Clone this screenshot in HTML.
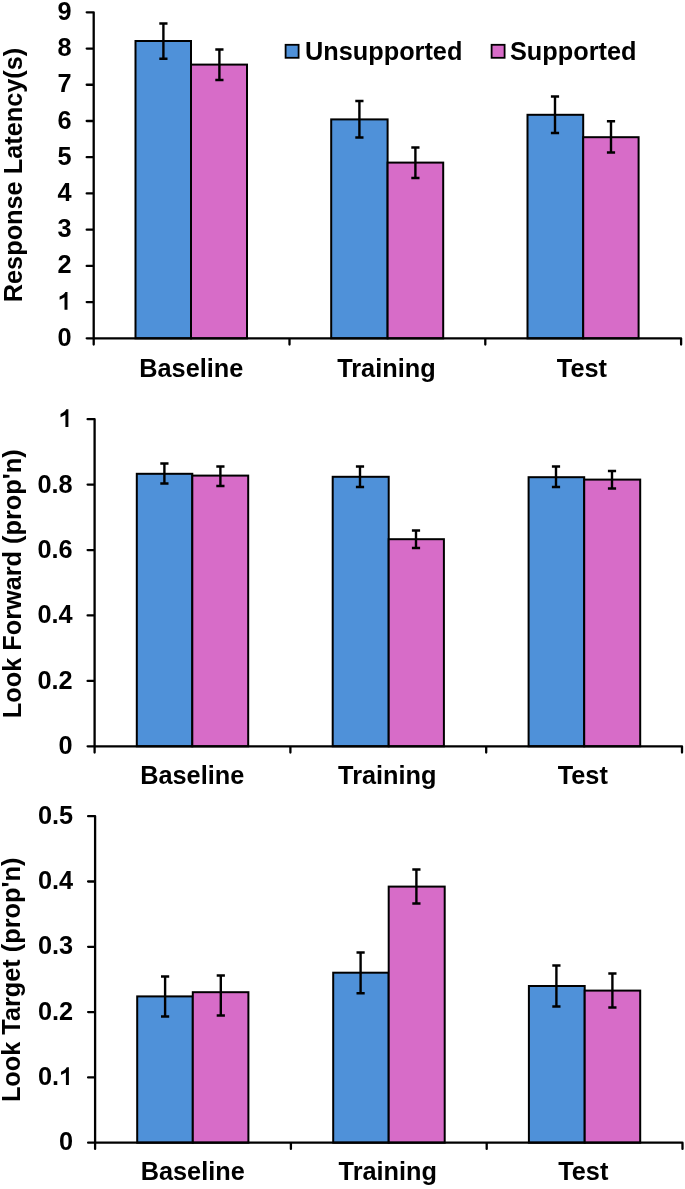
<!DOCTYPE html>
<html><head><meta charset="utf-8"><style>
html,body{margin:0;padding:0;background:#fff;width:685px;height:1189px;overflow:hidden}
svg{display:block;will-change:transform}
text{font-family:"Liberation Sans",sans-serif;font-weight:bold;font-size:25.3px;fill:#000}
</style></head><body>
<svg width="685" height="1189" viewBox="0 0 685 1189">
<defs><path id="one" d="M0.39 0V-0.703H0.305C0.275 -0.635 0.205 -0.575 0.079 -0.52V-0.392C0.15 -0.418 0.22 -0.452 0.272 -0.49V0Z"/></defs>
<rect x="135.5" y="41" width="55.5" height="297.35" fill="#4f91d9" stroke="#000" stroke-width="2.0"/>
<rect x="191" y="64.6" width="56" height="273.75" fill="#d76cc8" stroke="#000" stroke-width="2.0"/>
<rect x="331.2" y="119.4" width="56.4" height="218.95" fill="#4f91d9" stroke="#000" stroke-width="2.0"/>
<rect x="387.6" y="162.6" width="55.6" height="175.75" fill="#d76cc8" stroke="#000" stroke-width="2.0"/>
<rect x="527.5" y="114.8" width="55.7" height="223.55" fill="#4f91d9" stroke="#000" stroke-width="2.0"/>
<rect x="583.2" y="137.2" width="55.4" height="201.15" fill="#d76cc8" stroke="#000" stroke-width="2.0"/>
<path d="M163.4 23.4V58.8" stroke="#000" stroke-width="2.4" fill="none"/>
<path d="M159.3 23.4H167.5M159.3 58.8H167.5" stroke="#000" stroke-width="2.5" fill="none"/>
<path d="M219.4 49.5V80" stroke="#000" stroke-width="2.4" fill="none"/>
<path d="M215.3 49.5H223.5M215.3 80H223.5" stroke="#000" stroke-width="2.5" fill="none"/>
<path d="M359.4 101V137.4" stroke="#000" stroke-width="2.4" fill="none"/>
<path d="M355.3 101H363.5M355.3 137.4H363.5" stroke="#000" stroke-width="2.5" fill="none"/>
<path d="M415.4 147.6V178" stroke="#000" stroke-width="2.4" fill="none"/>
<path d="M411.3 147.6H419.5M411.3 178H419.5" stroke="#000" stroke-width="2.5" fill="none"/>
<path d="M555 96.6V133" stroke="#000" stroke-width="2.4" fill="none"/>
<path d="M550.9 96.6H559.1M550.9 133H559.1" stroke="#000" stroke-width="2.5" fill="none"/>
<path d="M611 121.2V152.5" stroke="#000" stroke-width="2.4" fill="none"/>
<path d="M606.9 121.2H615.1M606.9 152.5H615.1" stroke="#000" stroke-width="2.5" fill="none"/>
<path d="M93.7 12.3V344.55M93.7 338.35H681.1V344.55M86.7 338.35H93.7M86.7 302.12H93.7M86.7 265.89H93.7M86.7 229.67H93.7M86.7 193.44H93.7M86.7 157.21H93.7M86.7 120.98H93.7M86.7 84.76H93.7M86.7 48.53H93.7M86.7 12.3H93.7M289.5 338.35V344.55M485.3 338.35V344.55" stroke="#000" stroke-width="2.3" fill="none" stroke-linejoin="round" stroke-linecap="round"/>
<text x="71.7" y="345.95" text-anchor="end">0</text>
<use href="#one" transform="translate(57.63 309.72) scale(25.3)"/>
<text x="71.7" y="273.49" text-anchor="end">2</text>
<text x="71.7" y="237.27" text-anchor="end">3</text>
<text x="71.7" y="201.04" text-anchor="end">4</text>
<text x="71.7" y="164.81" text-anchor="end">5</text>
<text x="71.7" y="128.58" text-anchor="end">6</text>
<text x="71.7" y="92.36" text-anchor="end">7</text>
<text x="71.7" y="56.13" text-anchor="end">8</text>
<text x="71.7" y="19.9" text-anchor="end">9</text>
<text x="191.3" y="376.7" text-anchor="middle">Baseline</text>
<text x="386.4" y="376.7" text-anchor="middle">Training</text>
<text x="581.9" y="376.7" text-anchor="middle">Test</text>
<text transform="translate(22.2 175) rotate(-90)" text-anchor="middle">Response Latency(s)</text>
<rect x="285.6" y="44.8" width="13" height="13" fill="#4f91d9" stroke="#000" stroke-width="1.8"/>
<text x="305" y="59.5">Unsupported</text>
<rect x="491.6" y="44.8" width="13" height="13" fill="#d76cc8" stroke="#000" stroke-width="1.8"/>
<text x="510" y="59.5">Supported</text>
<rect x="136.8" y="473.8" width="55.5" height="272.5" fill="#4f91d9" stroke="#000" stroke-width="2.0"/>
<rect x="192.3" y="475.6" width="55.9" height="270.7" fill="#d76cc8" stroke="#000" stroke-width="2.0"/>
<rect x="332.7" y="476.8" width="56" height="269.5" fill="#4f91d9" stroke="#000" stroke-width="2.0"/>
<rect x="388.7" y="539.2" width="55.2" height="207.1" fill="#d76cc8" stroke="#000" stroke-width="2.0"/>
<rect x="528.6" y="477.2" width="55.6" height="269.1" fill="#4f91d9" stroke="#000" stroke-width="2.0"/>
<rect x="584.2" y="479.6" width="56" height="266.7" fill="#d76cc8" stroke="#000" stroke-width="2.0"/>
<path d="M164.4 463.6V483.6" stroke="#000" stroke-width="2.4" fill="none"/>
<path d="M160.3 463.6H168.5M160.3 483.6H168.5" stroke="#000" stroke-width="2.5" fill="none"/>
<path d="M220.4 466.4V486" stroke="#000" stroke-width="2.4" fill="none"/>
<path d="M216.3 466.4H224.5M216.3 486H224.5" stroke="#000" stroke-width="2.5" fill="none"/>
<path d="M360 466.4V487" stroke="#000" stroke-width="2.4" fill="none"/>
<path d="M355.9 466.4H364.1M355.9 487H364.1" stroke="#000" stroke-width="2.5" fill="none"/>
<path d="M416 530.4V548" stroke="#000" stroke-width="2.4" fill="none"/>
<path d="M411.9 530.4H420.1M411.9 548H420.1" stroke="#000" stroke-width="2.5" fill="none"/>
<path d="M556 466.4V487" stroke="#000" stroke-width="2.4" fill="none"/>
<path d="M551.9 466.4H560.1M551.9 487H560.1" stroke="#000" stroke-width="2.5" fill="none"/>
<path d="M612 471V488.4" stroke="#000" stroke-width="2.4" fill="none"/>
<path d="M607.9 471H616.1M607.9 488.4H616.1" stroke="#000" stroke-width="2.5" fill="none"/>
<path d="M94.6 419.2V752.5M94.6 746.3H682V752.5M87.6 746.3H94.6M87.6 680.88H94.6M87.6 615.46H94.6M87.6 550.04H94.6M87.6 484.62H94.6M87.6 419.2H94.6M290.4 746.3V752.5M486.2 746.3V752.5" stroke="#000" stroke-width="2.3" fill="none" stroke-linejoin="round" stroke-linecap="round"/>
<text x="72.6" y="754.2" text-anchor="end">0</text>
<text x="72.6" y="688.78" text-anchor="end">0.2</text>
<text x="72.6" y="623.36" text-anchor="end">0.4</text>
<text x="72.6" y="557.94" text-anchor="end">0.6</text>
<text x="72.6" y="492.52" text-anchor="end">0.8</text>
<use href="#one" transform="translate(58.53 427.1) scale(25.3)"/>
<text x="192.2" y="784.4" text-anchor="middle">Baseline</text>
<text x="387.3" y="784.4" text-anchor="middle">Training</text>
<text x="582.8" y="784.4" text-anchor="middle">Test</text>
<text transform="translate(21.2 583.8) rotate(-90)" text-anchor="middle">Look Forward (prop&#39;n)</text>
<rect x="137.2" y="996.4" width="55.6" height="146.3" fill="#4f91d9" stroke="#000" stroke-width="2.0"/>
<rect x="192.8" y="992.2" width="55.6" height="150.5" fill="#d76cc8" stroke="#000" stroke-width="2.0"/>
<rect x="333.2" y="972.7" width="55.5" height="170" fill="#4f91d9" stroke="#000" stroke-width="2.0"/>
<rect x="388.7" y="886.6" width="56" height="256.1" fill="#d76cc8" stroke="#000" stroke-width="2.0"/>
<rect x="528.9" y="986" width="55.8" height="156.7" fill="#4f91d9" stroke="#000" stroke-width="2.0"/>
<rect x="584.7" y="990.6" width="55.5" height="152.1" fill="#d76cc8" stroke="#000" stroke-width="2.0"/>
<path d="M165.1 976.5V1016.6" stroke="#000" stroke-width="2.4" fill="none"/>
<path d="M161 976.5H169.2M161 1016.6H169.2" stroke="#000" stroke-width="2.5" fill="none"/>
<path d="M220.8 975.5V1015.5" stroke="#000" stroke-width="2.4" fill="none"/>
<path d="M216.7 975.5H224.9M216.7 1015.5H224.9" stroke="#000" stroke-width="2.5" fill="none"/>
<path d="M360.6 952.4V993.2" stroke="#000" stroke-width="2.4" fill="none"/>
<path d="M356.5 952.4H364.7M356.5 993.2H364.7" stroke="#000" stroke-width="2.5" fill="none"/>
<path d="M416.4 869.4V903.6" stroke="#000" stroke-width="2.4" fill="none"/>
<path d="M412.3 869.4H420.5M412.3 903.6H420.5" stroke="#000" stroke-width="2.5" fill="none"/>
<path d="M556.4 965.4V1006.4" stroke="#000" stroke-width="2.4" fill="none"/>
<path d="M552.3 965.4H560.5M552.3 1006.4H560.5" stroke="#000" stroke-width="2.5" fill="none"/>
<path d="M612.4 973.4V1007.6" stroke="#000" stroke-width="2.4" fill="none"/>
<path d="M608.3 973.4H616.5M608.3 1007.6H616.5" stroke="#000" stroke-width="2.5" fill="none"/>
<path d="M95.1 816.2V1148.9M95.1 1142.7H682.5V1148.9M88.1 1142.7H95.1M88.1 1077.4H95.1M88.1 1012.1H95.1M88.1 946.8H95.1M88.1 881.5H95.1M88.1 816.2H95.1M290.9 1142.7V1148.9M486.7 1142.7V1148.9" stroke="#000" stroke-width="2.3" fill="none" stroke-linejoin="round" stroke-linecap="round"/>
<text x="73.1" y="1150.3" text-anchor="end">0</text>
<text x="59.03" y="1085" text-anchor="end">0.</text>
<use href="#one" transform="translate(59.03 1085) scale(25.3)"/>
<text x="73.1" y="1019.7" text-anchor="end">0.2</text>
<text x="73.1" y="954.4" text-anchor="end">0.3</text>
<text x="73.1" y="889.1" text-anchor="end">0.4</text>
<text x="73.1" y="823.8" text-anchor="end">0.5</text>
<text x="192.7" y="1180.4" text-anchor="middle">Baseline</text>
<text x="387.8" y="1180.4" text-anchor="middle">Training</text>
<text x="583.3" y="1180.4" text-anchor="middle">Test</text>
<text transform="translate(20.2 979.9) rotate(-90)" text-anchor="middle">Look Target (prop&#39;n)</text>
</svg>
</body></html>
